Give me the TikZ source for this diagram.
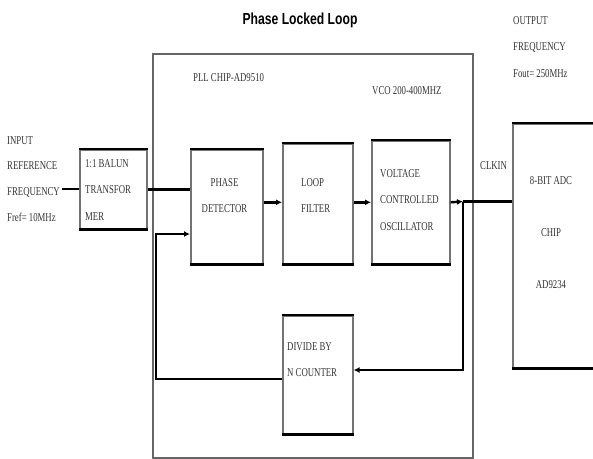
\documentclass[tikz,border=0pt]{standalone}
\usepackage{fontspec}
\setmainfont[FakeStretch=0.73]{Liberation Serif}
\newfontfamily\titlefont[FakeStretch=0.76]{Liberation Sans}
\usetikzlibrary{arrows.meta}
\begin{document}
\begin{tikzpicture}[x=1pt,y=-1pt,
 lbl/.style={inner sep=0pt, align=left, anchor=north west, text=black!80, font=\fontsize{12}{26.5}\selectfont},
 lblc/.style={lbl, align=center, anchor=north},
 blk/.style={draw=black!55, line width=1.6pt, inner sep=0pt, anchor=north west},
 edge/.style={black, line width=2.6pt},
 wire/.style={black, line width=2.4pt},
 arr/.style={wire, -{Latex[length=6pt,width=6pt]}}]
\useasboundingbox (0,0) rectangle (593,458);
% boxes
\node[blk, draw=black!60, line width=2.4pt, minimum width=320pt, minimum height=404pt] (pll) at (152,53) {};
\node[blk, minimum width=67pt, minimum height=79pt] (balun) at (79,149) {};
\node[blk, minimum width=72pt, minimum height=114pt] (pd) at (190,149) {};
\node[blk, minimum width=70pt, minimum height=120pt] (lf) at (282,143) {};
\node[blk, minimum width=78pt, minimum height=123pt] (vco) at (371,140) {};
\node[blk, minimum width=70pt, minimum height=118pt] (div) at (282,315) {};
\node[blk, minimum width=100pt, minimum height=244pt] (adc) at (512,123) {};
\foreach \n in {balun,pd,lf,vco,div,adc}{
  \draw[edge] (\n.north west) -- (\n.north east);
  \draw[edge] (\n.south west) -- (\n.south east);
}
% texts
\node[font=\titlefont\bfseries\fontsize{16}{18}\selectfont] (title) at (300,20) {Phase Locked Loop};
\node[lbl, font=\fontsize{12}{25.7}\selectfont] (intext) at (7,136) {INPUT\\REFERENCE\\FREQUENCY\\Fref= 10MHz};
\node[lbl] (baluntext) at (85,159) {1:1 BALUN\\TRANSFOR\\MER};
\node[lblc] (pdtext) at (224.5,178) {PHASE\\DETECTOR};
\node[lbl] (lftext) at (301,178) {LOOP\\FILTER};
\node[lbl] (vcotext) at (380,169) {VOLTAGE\\CONTROLLED\\OSCILLATOR};
\node[lbl] (divtext) at (287,342) {DIVIDE BY\\N COUNTER};
\node[lblc, font=\fontsize{12}{52}\selectfont] (adctext) at (551,176) {8-BIT ADC\\CHIP\\AD9234};
\node[lbl] (clkin) at (480,161) {CLKIN};
\node[lbl] (outtext) at (513,16) {OUTPUT\\FREQUENCY\\Fout= 250MHz};
\node[lbl] (pllchip) at (193,73) {PLL CHIP-AD9510};
\node[lbl] (vcorange) at (372,86) {VCO 200-400MHZ};
% connectors
\coordinate (inend) at (62,189);
\draw[wire] (inend) -- (balun.west |- inend);
\draw[wire] (balun.east) -- (pd.west |- balun.east);
\draw[arr] (pd.east |- vco.west) -- (lf.west |- vco.west);
\draw[arr] (lf.east |- vco.west) -- (vco.west);
\coordinate (tap) at (463,201.5);
\draw[arr] (vco.east) -- (tap);
\draw[wire] (tap) -- (adc.west |- tap);
\coordinate (fb1) at (463,370);
\draw[arr] (tap) -- (fb1) -- (div.east |- fb1);
\coordinate (fb2) at (156,379);
\coordinate (fb3) at (156,234);
\draw[arr] (div.west |- fb2) -- (fb2) -- (fb3) -- (pd.west |- fb3);
\end{tikzpicture}
\end{document}
